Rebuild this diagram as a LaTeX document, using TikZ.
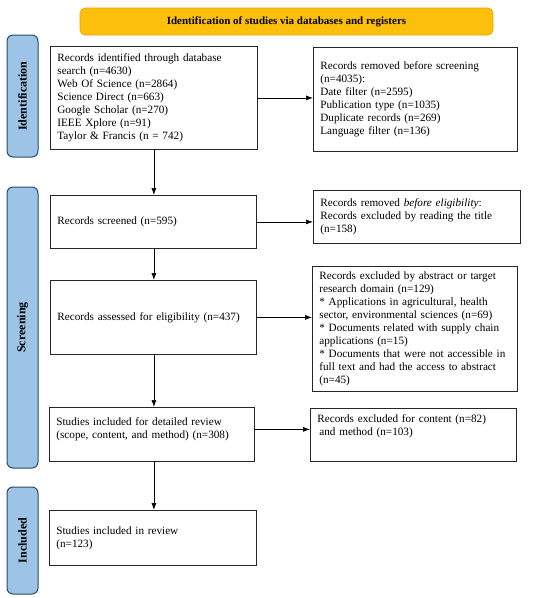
\documentclass[tikz,border=0pt]{standalone}
\usepackage{fontspec}
\setmainfont{Liberation Serif}
\usetikzlibrary{arrows.meta}
\definecolor{bannerfill}{HTML}{FBBF0C}
\definecolor{bannerdraw}{HTML}{E5A50A}
\definecolor{sidefill}{HTML}{9DC3E6}
\definecolor{sidedraw}{HTML}{2F4A66}
\tikzset{
  box/.style={draw=black!85, line width=0.8pt, anchor=north west, align=left,
    inner xsep=7pt, inner ysep=3pt, font=\fontsize{11.2}{13}\selectfont},
  side/.style={draw=sidedraw, fill=sidefill, line width=1pt, rounded corners=6pt,
    rotate=90, minimum height=31pt, inner sep=0pt, font=\fontsize{12}{14}\selectfont\bfseries},
  banner/.style={draw=bannerdraw, fill=bannerfill, line width=0.6pt, rounded corners=5pt,
    minimum width=413pt, minimum height=27pt, font=\fontsize{11}{13}\selectfont\bfseries},
  arr/.style={-{Latex[length=7pt,width=5pt]}, line width=0.7pt, black}
}
\begin{document}
\begin{tikzpicture}[x=1pt,y=-1pt]
\useasboundingbox[fill=white] (0,0) rectangle (550,598);

\node[banner] (ban) at (286.5,21.5) {Identification of studies via databases and registers};

\node[side, minimum width=122pt] (sid) at (22.5,96) {Identification};
\node[side, minimum width=281pt] (ssc) at (22.5,327.5) {Screening};
\node[side, minimum width=107pt] (sin) at (22.5,540.5) {Included};

\node[box, text width=193pt, minimum height=103pt] (b1) at (50,46)
  {Records identified through database\\ search (n=4630)\\ Web Of Science (n=2864)\\ Science Direct (n=663)\\ Google Scholar (n=270)\\ IEEE Xplore (n=91)\\ Taylor \& Francis (n = 742)};

\node[box, text width=190pt, minimum height=104pt] (r1) at (313,47)
  {Records removed before screening\\ (n=4035):\\ Date filter (n=2595)\\ Publication type (n=1035)\\ Duplicate records (n=269)\\ Language filter (n=136)};

\node[box, text width=192pt, minimum height=53pt] (b2) at (50,195)
  {Records screened (n=595)};

\node[box, text width=193pt, minimum height=53pt] (r2) at (313,190)
  {Records removed \textit{before eligibility}:\\ Records excluded by reading the title\\ (n=158)};

\node[box, text width=192pt, minimum height=74pt] (b3) at (50,280)
  {Records assessed for eligibility (n=437)};

\node[box, text width=191pt, minimum height=125pt] (r3) at (312,266)
  {Records excluded by abstract or target\\ research domain (n=129)\\{}* Applications in agricultural, health\\ sector, environmental sciences (n=69)\\{}* Documents related with supply chain\\ applications (n=15)\\{}* Documents that were not accessible in\\ full text and had the access to abstract\\ (n=45)};

\node[box, text width=191pt, minimum height=54pt] (b4) at (49,407)
  {Studies included for detailed review\\ (scope, content, and method) (n=308)\\ \mbox{}};

\node[box, text width=192pt, minimum height=53pt] (r4) at (310,408)
  {Records excluded for content (n=82)\\ \hspace{2pt}and method (n=103)\\[7pt] \mbox{}};

\node[box, text width=193pt, minimum height=55pt] (b5) at (49,510)
  {Studies included in review\\ (n=123)};

\draw[arr] (b1.east) -- (b1.east -| r1.west);
\draw[arr] (b2.east) -- (b2.east -| r2.west);
\draw[arr] (b3.east) -- (b3.east -| r3.west);
\draw[arr] ([yshift=5pt]b4.east) -- ([yshift=5pt]b4.east -| r4.west);

\draw[arr] (b1.south) -- (b1.south |- b2.north);
\draw[arr] (b1.south |- b2.south) -- (b1.south |- b3.north);
\draw[arr] (b1.south |- b3.south) -- (b1.south |- b4.north);
\draw[arr] (b1.south |- b4.south) -- (b1.south |- b5.north);
\end{tikzpicture}
\end{document}
